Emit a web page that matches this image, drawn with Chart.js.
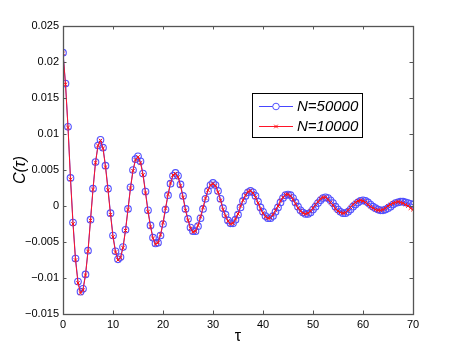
<!DOCTYPE html>
<html>
<head>
<meta charset="utf-8">
<script src="https://cdn.jsdelivr.net/npm/chart.js@4.4.1/dist/chart.umd.min.js"></script>
<style>
  html, body { margin: 0; padding: 0; background: #fff; }
  canvas { display: block; }
</style>
</head>
<body>
<canvas id="corr" width="456" height="352"></canvas>
<script>
// tau grid (step 0.5)
var tau = [0,0.5,1,1.5,2,2.5,3,3.5,4,4.5,5,5.5,6,6.5,7,7.5,8,8.5,9,9.5,
  10,10.5,11,11.5,12,12.5,13,13.5,14,14.5,15,15.5,16,16.5,17,17.5,18,18.5,19,19.5,
  20,20.5,21,21.5,22,22.5,23,23.5,24,24.5,25,25.5,26,26.5,27,27.5,28,28.5,29,29.5,
  30,30.5,31,31.5,32,32.5,33,33.5,34,34.5,35,35.5,36,36.5,37,37.5,38,38.5,39,39.5,
  40,40.5,41,41.5,42,42.5,43,43.5,44,44.5,45,45.5,46,46.5,47,47.5,48,48.5,49,49.5,
  50,50.5,51,51.5,52,52.5,53,53.5,54,54.5,55,55.5,56,56.5,57,57.5,58,58.5,59,59.5,
  60,60.5,61,61.5,62,62.5,63,63.5,64,64.5,65,65.5,66,66.5,67,67.5,68,68.5,69,69.5,70];

var c50000 = [0.0213,0.0170,0.0110,0.0039,-0.0023,-0.0073,-0.0105,-0.0119,-0.0115,-0.0095,
  -0.0062,-0.0019,0.0024,0.0061,0.0084,0.0092,0.0081,0.0056,0.0024,-0.0010,
  -0.0041,-0.0063,-0.0074,-0.0071,-0.0057,-0.0033,-0.0004,0.0026,0.0050,0.0065,
  0.0069,0.0062,0.0045,0.0020,-0.0006,-0.0027,-0.0044,-0.0052,-0.0051,-0.0041,
  -0.0025,-0.0005,0.0015,0.0031,0.0042,0.0046,0.0042,0.0030,0.0014,-0.0004,
  -0.0018,-0.0030,-0.0035,-0.0035,-0.0028,-0.0017,-0.0004,0.0010,0.0021,0.0029,
  0.0032,0.0029,0.0021,0.0010,-0.0003,-0.0012,-0.0020,-0.0024,-0.0024,-0.0019,
  -0.0012,-0.0002,0.0007,0.0014,0.0019,0.0021,0.0019,0.0014,0.0006,-0.0002,
  -0.0008,-0.0014,-0.0017,-0.0017,-0.0014,-0.0008,-0.0002,0.0005,0.0011,0.0015,
  0.0016,0.0015,0.0011,0.0005,-0.0001,-0.0006,-0.0009,-0.0011,-0.0011,-0.0009,
  -0.0005,-0.0001,0.0004,0.0008,0.0011,0.0012,0.0011,0.0008,0.0004,-0.0001,
  -0.0005,-0.0008,-0.0010,-0.0010,-0.0008,-0.0005,-0.0001,0.0002,0.0005,0.0007,
  0.0008,0.0007,0.0005,0.0002,-0.0001,-0.0003,-0.0005,-0.0006,-0.0006,-0.0005,
  -0.0003,-0.0001,0.0002,0.0004,0.0005,0.0006,0.0006,0.0005,0.0004,0.0003,0.0002];

var c10000 = [0.0212,0.0169,0.0109,0.0037,-0.0025,-0.0075,-0.0107,-0.0121,-0.0117,-0.0096,
  -0.0063,-0.0020,0.0023,0.0060,0.0084,0.0091,0.0080,0.0054,0.0022,-0.0012,
  -0.0043,-0.0064,-0.0075,-0.0072,-0.0058,-0.0034,-0.0005,0.0025,0.0049,0.0064,
  0.0068,0.0060,0.0043,0.0018,-0.0008,-0.0029,-0.0045,-0.0053,-0.0051,-0.0040,
  -0.0023,-0.0003,0.0016,0.0032,0.0043,0.0045,0.0040,0.0028,0.0012,-0.0006,
  -0.0020,-0.0031,-0.0036,-0.0035,-0.0027,-0.0015,-0.0002,0.0011,0.0022,0.0029,
  0.0031,0.0028,0.0019,0.0008,-0.0005,-0.0014,-0.0021,-0.0025,-0.0024,-0.0018,
  -0.0011,0.0000,0.0008,0.0015,0.0020,0.0021,0.0018,0.0012,0.0004,-0.0004,
  -0.0010,-0.0015,-0.0017,-0.0016,-0.0012,-0.0006,0.0000,0.0007,0.0012,0.0016,
  0.0016,0.0014,0.0009,0.0003,-0.0003,-0.0007,-0.0010,-0.0011,-0.0010,-0.0007,
  -0.0003,0.0002,0.0006,0.0010,0.0012,0.0012,0.0009,0.0005,0.0001,-0.0004,
  -0.0007,-0.0009,-0.0010,-0.0009,-0.0006,-0.0002,0.0002,0.0005,0.0007,0.0008,
  0.0007,0.0005,0.0002,-0.0001,-0.0003,-0.0005,-0.0006,-0.0006,-0.0005,-0.0003,
  0.0000,0.0002,0.0004,0.0005,0.0006,0.0005,0.0004,0.0002,0.0000,-0.0003,-0.0005];

var yTicks = [-0.015,-0.01,-0.005,0,0.005,0.01,0.015,0.02,0.025];
var yTickLabels = ["\u22120.015","\u22120.01","\u22120.005","0","0.005","0.01","0.015","0.02","0.025"];
var xTicks = [0,10,20,30,40,50,60,70];

var seriesNames = ["N=50000", "N=10000"];

function toPoints(ys) {
  var pts = [];
  for (var i = 0; i < tau.length; i++) pts.push({x: tau[i], y: ys[i]});
  return pts;
}

var fontFam = "'Liberation Sans', Arial, Helvetica, sans-serif";

// white bg, axes box with inward ticks, legend box
var matlabish = {
  id: "matlabish",
  beforeDraw: function(chart) {
    var ctx = chart.ctx;
    ctx.save();
    ctx.fillStyle = "#fff";
    ctx.fillRect(0, 0, chart.width, chart.height);
    ctx.restore();
  },
  afterDraw: function(chart) {
    var ctx = chart.ctx, a = chart.chartArea;
    var xs = chart.scales.x, ys = chart.scales.y;
    ctx.save();
    ctx.strokeStyle = "#555";
    ctx.lineWidth = 1.3;
    ctx.strokeRect(Math.round(a.left) + 0.5, Math.round(a.top) + 0.5,
      Math.round(a.right - a.left), Math.round(a.bottom - a.top));
    ctx.lineWidth = 1;
    ctx.beginPath();
    xTicks.forEach(function(v) {
      var px = Math.round(xs.getPixelForValue(v)) + 0.5;
      ctx.moveTo(px, a.bottom); ctx.lineTo(px, a.bottom - 3.5);
      ctx.moveTo(px, a.top); ctx.lineTo(px, a.top + 3.5);
    });
    yTicks.forEach(function(v) {
      var py = Math.round(ys.getPixelForValue(v)) + 0.5;
      ctx.moveTo(a.left, py); ctx.lineTo(a.left + 3.5, py);
      ctx.moveTo(a.right, py); ctx.lineTo(a.right - 3.5, py);
    });
    ctx.stroke();

    // legend
    var lx = 252.5, ly = 93.5, lw = 110, lh = 44;
    ctx.fillStyle = "#fff";
    ctx.fillRect(lx, ly, lw, lh);
    ctx.strokeStyle = "#000";
    ctx.strokeRect(lx, ly, lw, lh);
    chart.data.datasets.forEach(function(ds, i) {
      var y = 106 + i * 20;
      ctx.strokeStyle = ds.borderColor;
      ctx.lineWidth = 1;
      ctx.beginPath();
      ctx.moveTo(259, y + 0.5); ctx.lineTo(293, y + 0.5);
      ctx.stroke();
      ctx.strokeStyle = ds.pointBorderColor;
      Chart.helpers.drawPoint(ctx, {
        pointStyle: ds.pointStyle, radius: ds.pointRadius,
        borderWidth: 1
      }, 276, y + 0.5);
      ctx.fillStyle = "#000";
      ctx.font = "italic 15px " + fontFam;
      ctx.textBaseline = "middle";
      ctx.textAlign = "left";
      ctx.fillText(ds.label, 297, y + 1);
    });
    ctx.restore();
  }
};

new Chart(document.getElementById("corr"), {
  type: "line",
  data: {
    datasets: [{
      label: seriesNames[0],
      data: toPoints(c50000),
      order: 2,
      borderColor: "rgb(70,70,255)",
      backgroundColor: "rgba(0,0,0,0)",
      borderWidth: 1,
      pointStyle: "circle",
      pointRadius: 3.3,
      pointBorderWidth: 1.1,
      pointBorderColor: "rgb(80,80,255)",
      pointBackgroundColor: "rgba(0,0,0,0)",
      tension: 0
    }, {
      label: seriesNames[1],
      data: toPoints(c10000),
      order: 1,
      borderColor: "rgb(255,20,40)",
      backgroundColor: "rgba(0,0,0,0)",
      borderWidth: 1,
      pointStyle: "crossRot",
      pointRadius: 2.5,
      pointBorderWidth: 1,
      pointBorderColor: "rgb(255,20,20)",
      tension: 0
    }]
  },
  options: {
    responsive: false,
    animation: false,
    devicePixelRatio: 1,
    layout: { padding: { left: 0, right: 43, top: 26, bottom: 0 } },
    plugins: { legend: { display: false }, tooltip: { enabled: false } },
    scales: {
      x: {
        type: "linear", min: 0, max: 70,
        afterFit: function(s) { s.height = 38; },
        afterBuildTicks: function(s) { s.ticks = xTicks.map(function(v) { return {value: v}; }); },
        grid: { display: false, drawTicks: false },
        border: { display: false },
        ticks: { padding: 4, color: "#000", font: { family: fontFam, size: 11 }, maxRotation: 0 },
        title: { display: true, text: "\u03c4", color: "#000",
          font: { family: fontFam, size: 16 }, padding: { top: 0, bottom: 6 } }
      },
      y: {
        type: "linear", min: -0.015, max: 0.025,
        afterFit: function(s) { s.width = 63; },
        afterBuildTicks: function(s) { s.ticks = yTicks.map(function(v) { return {value: v}; }); },
        grid: { display: false, drawTicks: false },
        border: { display: false },
        ticks: {
          padding: 4, color: "#000", font: { family: fontFam, size: 11 },
          callback: function(v) { var i = yTicks.indexOf(v); return i >= 0 ? yTickLabels[i] : ""; }
        },
        title: { display: true, text: "C(\u03c4)", color: "#000",
          font: { family: fontFam, size: 16, style: "italic" }, padding: { top: 11, bottom: 0 } }
      }
    }
  },
  plugins: [matlabish]
});
</script>
</body>
</html>
